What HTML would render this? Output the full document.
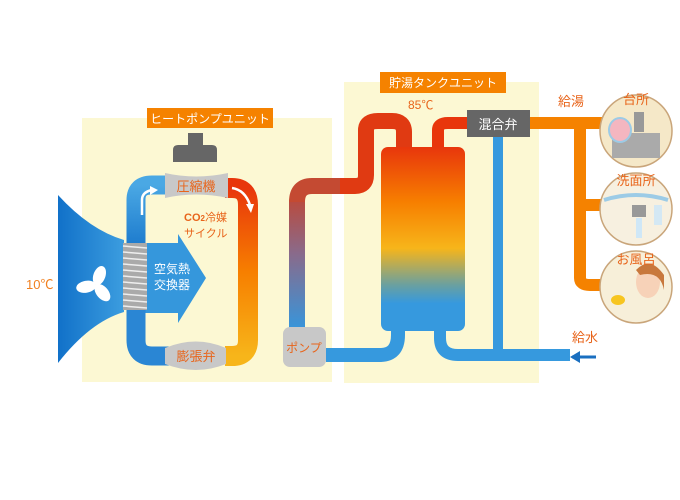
<!DOCTYPE html>
<html><head><meta charset="utf-8"><style>
body{margin:0;background:#fff}
svg{display:block;font-family:"Liberation Sans","Noto Sans CJK JP",sans-serif}
</style></head><body>
<svg width="680" height="500" viewBox="0 0 680 500" xmlns="http://www.w3.org/2000/svg">
<defs>
<linearGradient id="fan" x1="0" x2="1"><stop offset="0" stop-color="#1171c9"/><stop offset="1" stop-color="#3c9ddf"/></linearGradient>
<linearGradient id="hot" x1="0" y1="0" x2="0" y2="1"><stop offset="0" stop-color="#e8360c"/><stop offset=".5" stop-color="#f77f00"/><stop offset="1" stop-color="#f7b51a"/></linearGradient>
<linearGradient id="cold" x1="0" y1="0" x2="0" y2="1"><stop offset="0" stop-color="#4aa8e4"/><stop offset="1" stop-color="#1a78cc"/></linearGradient>
<linearGradient id="pipe" gradientUnits="userSpaceOnUse" x1="0" y1="190" x2="0" y2="330"><stop offset="0" stop-color="#c24530"/><stop offset=".45" stop-color="#8a6a8a"/><stop offset="1" stop-color="#3696dc"/></linearGradient>
<linearGradient id="hpipe" x1="0" x2="1"><stop offset="0" stop-color="#c24530"/><stop offset="1" stop-color="#e03a14"/></linearGradient>
<linearGradient id="tank" x1="0" y1="0" x2="0" y2="1"><stop offset="0" stop-color="#e8360c"/><stop offset=".3" stop-color="#f77f00"/><stop offset=".55" stop-color="#f7b51a"/><stop offset=".75" stop-color="#6aa0a0"/><stop offset=".85" stop-color="#3699de"/><stop offset="1" stop-color="#3699de"/></linearGradient>
</defs>
<rect x="82" y="118" width="250" height="264" fill="#fcf8d3"/>
<rect x="344" y="82" width="195" height="301" fill="#fcf8d3"/>
<rect x="147" y="108" width="126" height="20" fill="#f58200"/>
<text x="210" y="123" font-size="12" fill="#fff" text-anchor="middle">ヒートポンプユニット</text>
<rect x="380" y="72" width="126" height="21" fill="#f58200"/>
<text x="443" y="87" font-size="12" fill="#fff" text-anchor="middle">貯湯タンクユニット</text>

<path d="M58 195 Q90 230 124 240 L124 312 Q90 322 58 363 Z" fill="url(#fan)"/>
<path d="M145 243 L178 243 L178 234 L206 278 L178 323 L178 313 L145 313 Z" fill="#3597dc"/>
<g fill="#fff" transform="translate(96,285)">
<ellipse cx="0" cy="-10" rx="6" ry="10" transform="rotate(20)"/>
<ellipse cx="0" cy="-10" rx="6" ry="10" transform="rotate(140)"/>
<ellipse cx="0" cy="-10" rx="6" ry="10" transform="rotate(260)"/>
</g>
<text x="26" y="289" font-size="13" fill="#f08020">10℃</text>
<text x="154" y="273" font-size="12" fill="#fff">空気熱</text>
<text x="154" y="289" font-size="12" fill="#fff">交換器</text>

<path d="M136 250 L136 200 Q136 185 152 185 L170 185" stroke="url(#cold)" stroke-width="19" fill="none"/>
<path d="M136 300 L136 340 Q136 356 152 356 L170 356" stroke="#2a86d4" stroke-width="19" fill="none"/>
<path d="M225 188 L232 188 Q248 188 248 205 L248 340 Q248 356 232 356 L225 356" stroke="url(#hot)" stroke-width="20" fill="none"/>
<path d="M142 215 L142 200 Q142 192 152 190" stroke="#fff" stroke-width="2.5" fill="none"/>
<path d="M150 186 L158 190 L150 195 Z" fill="#fff"/>
<path d="M232 188 Q245 190 250 205" stroke="#fff" stroke-width="2.5" fill="none"/>
<path d="M246 204 L254 204 L251 213 Z" fill="#fff"/>
<rect x="123" y="243" width="24" height="67" fill="#aaa"/>
<g stroke="#eee" stroke-width="1.5">
<line x1="123" y1="246" x2="147" y2="248"/><line x1="123" y1="252" x2="147" y2="254"/><line x1="123" y1="258" x2="147" y2="260"/><line x1="123" y1="264" x2="147" y2="266"/><line x1="123" y1="270" x2="147" y2="272"/><line x1="123" y1="276" x2="147" y2="278"/><line x1="123" y1="282" x2="147" y2="284"/><line x1="123" y1="288" x2="147" y2="290"/><line x1="123" y1="294" x2="147" y2="296"/><line x1="123" y1="300" x2="147" y2="302"/><line x1="123" y1="306" x2="147" y2="308"/>
</g>
<path d="M188 133 L203 133 L203 145 L212 145 Q217 145 217 150 L217 162 L173 162 L173 150 Q173 145 178 145 L188 145 Z" fill="#666"/>
<path d="M165 173 Q196 180 228 173 L228 198 Q196 191 165 198 Z" fill="#c8c8c8"/>
<text x="196" y="191" font-size="13" fill="#e8641a" text-anchor="middle">圧縮機</text>
<text x="184" y="221" font-size="11" fill="#e8641a" font-weight="bold">CO<tspan font-size="8">2</tspan><tspan font-weight="normal">冷媒</tspan></text>
<text x="184" y="237" font-size="11" fill="#e8641a">サイクル</text>
<path d="M165 348 Q196 335 226 348 L226 364 Q196 376 165 364 Z" fill="#c8c8c8"/>
<text x="196" y="361" font-size="13" fill="#e8641a" text-anchor="middle">膨張弁</text>

<!-- pipe pump to tank -->
<path d="M297 330 L297 200" stroke="url(#pipe)" stroke-width="16" fill="none"/>
<path d="M297 202 Q297 186 312 186 L345 186" stroke="#c44a32" stroke-width="16" fill="none"/>
<path d="M340 186 L355 186 Q366 186 366 175 L366 130 Q366 121 378 121 L392 121 Q404 121 404 132 L404 150" stroke="#e03a12" stroke-width="16" fill="none"/>
<path d="M438 150 L438 130 Q438 123 448 123 L470 123" stroke="#e8360c" stroke-width="12" fill="none"/>
<rect x="381" y="147" width="84" height="184" rx="7" fill="url(#tank)"/>
<text x="408" y="109" font-size="12" fill="#e8641a">85℃</text>
<path d="M326 355 L380 355 Q398 355 398 335 L398 325" stroke="#3699de" stroke-width="14" fill="none"/>
<path d="M440 325 L440 338 Q440 355 458 355 L570 355" stroke="#3699de" stroke-width="12" fill="none"/>
<path d="M498 130 L498 355" stroke="#3699de" stroke-width="10" fill="none"/>
<path d="M572 357 L596 357" stroke="#1a6fc0" stroke-width="3"/><path d="M570 357 L580 351 L580 363 Z" fill="#1a6fc0"/>
<text x="572" y="342" font-size="13" fill="#e8641a">給水</text>
<rect x="283" y="327" width="43" height="40" rx="7" fill="#c8c8c8"/>
<text x="304" y="352" font-size="12" fill="#e8641a" text-anchor="middle">ポンプ</text>
<path d="M530 123 L610 123 M580 123 L580 278 Q580 285 590 285 L610 285 M580 205 L610 205" stroke="#f58200" stroke-width="12" fill="none"/>
<text x="558" y="106" font-size="13" fill="#e8641a">給湯</text>
<rect x="467" y="110" width="63" height="27" fill="#666"/>
<text x="498" y="129" font-size="13" fill="#fff" text-anchor="middle">混合弁</text>
<g stroke="#c9a57a" stroke-width="1.5">
<circle cx="636" cy="131" r="36" fill="#f5e8c8"/>
<circle cx="636" cy="209" r="36" fill="#f7f0e0"/>
<circle cx="636" cy="287" r="36" fill="#f7efd9"/>
</g>
<rect x="612" y="133" width="48" height="25" fill="#aaa"/>
<ellipse cx="620" cy="130" rx="11" ry="12" fill="#f4b6c0" stroke="#9ccbe6" stroke-width="2"/>
<rect x="634" y="112" width="10" height="20" fill="#999"/>
<path d="M604 200 Q636 190 668 200" stroke="#9ccbe6" stroke-width="4" fill="none"/>
<rect x="632" y="205" width="14" height="12" fill="#999"/>
<rect x="654" y="205" width="8" height="20" fill="#d4e8f4"/>
<rect x="636" y="218" width="6" height="20" fill="#cfe7f7"/>
<ellipse cx="648" cy="282" rx="12" ry="16" fill="#f7d2b8"/>
<path d="M636 270 Q650 255 664 275 L664 290 Q660 270 640 275 Z" fill="#c8783c"/>
<ellipse cx="618" cy="300" rx="7" ry="5" fill="#f7c520"/>
<text x="636" y="104" font-size="13" fill="#e8641a" text-anchor="middle">台所</text>
<text x="636" y="185" font-size="13" fill="#e8641a" text-anchor="middle">洗面所</text>
<text x="636" y="264" font-size="13" fill="#e8641a" text-anchor="middle">お風呂</text>
</svg>
</body></html>
